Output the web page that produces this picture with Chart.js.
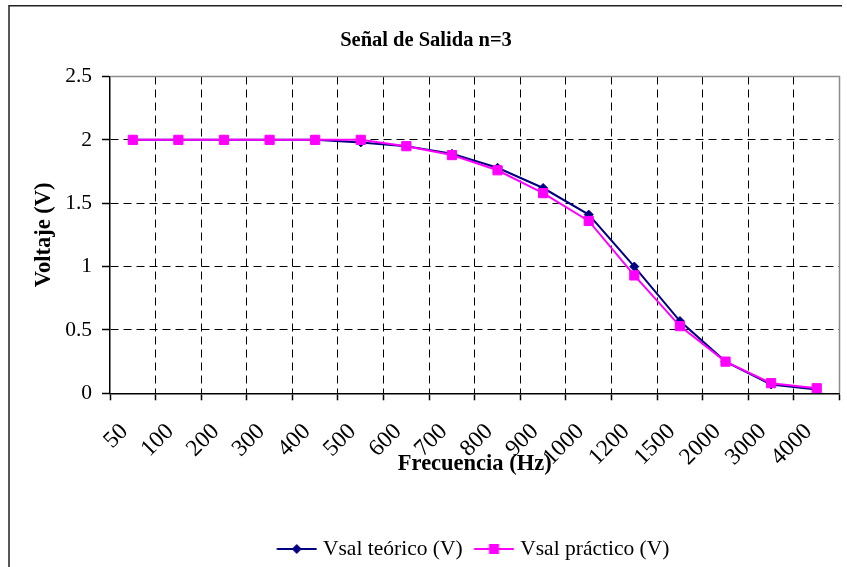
<!DOCTYPE html>
<html>
<head>
<meta charset="utf-8">
<title>Señal de Salida n=3</title>
<script src="https://cdn.jsdelivr.net/npm/chart.js@4.4.1/dist/chart.umd.min.js"></script>
<style>
  html, body { margin: 0; padding: 0; background: #ffffff; }
  canvas { display: block; }
</style>
</head>
<body>
<canvas id="grafico" width="847" height="567"></canvas>
<script>
// Frecuencias de medición (Hz), una categoría por punto
const frecuencias = ['50', '100', '200', '300', '400', '500', '600', '700', '800',
                     '900', '1000', '1200', '1500', '2000', '3000', '4000'];

// Tensión de salida teórica (V)
const vsalTeorico = [2.00, 2.00, 2.00, 2.00, 2.00, 1.98, 1.95, 1.89, 1.78,
                     1.62, 1.41, 1.00, 0.57, 0.25, 0.07, 0.03];

// Tensión de salida medida (V)
const vsalPractico = [2.00, 2.00, 2.00, 2.00, 2.00, 2.00, 1.95, 1.88, 1.76,
                      1.58, 1.36, 0.93, 0.53, 0.25, 0.08, 0.04];

const nombresSeries = ['Vsal teórico (V)', 'Vsal práctico (V)'];
const coloresSeries = ['#000080', '#ff00ff'];

const FUENTE = '"Liberation Serif", "Times New Roman", Times, serif';
const TAM = 21.5;

Chart.defaults.font.family = FUENTE;
Chart.defaults.font.size = TAM;
Chart.defaults.color = '#000000';

// Muestra de leyenda: tramo de línea con el marcador en el centro
function muestraLeyenda(color, forma) {
  const c = document.createElement('canvas');
  c.width = 50; c.height = 22;
  const g = c.getContext('2d');
  g.strokeStyle = color;
  g.fillStyle = color;
  g.lineWidth = 2;
  g.beginPath();
  g.moveTo(9.5, 11);
  g.lineTo(49.5, 11);
  g.stroke();
  const cx = 29.5, cy = 11;
  g.beginPath();
  if (forma === 'rombo') {
    g.moveTo(cx, cy - 5); g.lineTo(cx + 5, cy); g.lineTo(cx, cy + 5); g.lineTo(cx - 5, cy);
  } else {
    g.rect(cx - 5, cy - 5, 10, 10);
  }
  g.closePath();
  g.fill();
  return c;
}
const muestras = [muestraLeyenda(coloresSeries[0], 'rombo'), muestraLeyenda(coloresSeries[1], 'cuadrado')];

// Marco exterior del gráfico y borde gris del área de trazado
const marcos = {
  id: 'marcos',
  beforeDraw(chart) {
    const { ctx } = chart;
    ctx.save();
    ctx.fillStyle = '#ffffff';
    ctx.fillRect(0, 0, chart.width, chart.height);
    ctx.strokeStyle = '#222222';
    ctx.lineWidth = 1.5;
    ctx.beginPath();
    ctx.moveTo(9, chart.height);
    ctx.lineTo(9, 5.7);
    ctx.lineTo(842, 5.7);
    ctx.stroke();
    ctx.restore();
  },
  beforeDatasetsDraw(chart) {
    const { ctx, chartArea: a } = chart;
    ctx.save();
    ctx.strokeStyle = '#8c8c8c';
    ctx.lineWidth = 1.5;
    ctx.beginPath();
    ctx.moveTo(a.left, a.top);
    ctx.lineTo(a.right, a.top);
    ctx.lineTo(a.right, a.bottom);
    ctx.stroke();
    ctx.restore();
  },
  // la leyenda se centra bajo el área de trazado
  afterLayout(chart) {
    const l = chart.legend;
    if (!l) return;
    const dx = 44.85, dy = 2.75;
    l.left += dx; l.right += dx;
    l.top += dy; l.bottom += dy;
  }
};

const transparente = 'rgba(0,0,0,0)';

new Chart(document.getElementById('grafico'), {
  type: 'line',
  data: {
    labels: frecuencias,
    datasets: [
      {
        label: nombresSeries[0],
        data: vsalTeorico,
        borderColor: coloresSeries[0],
        backgroundColor: coloresSeries[0],
        borderWidth: 2,
        pointStyle: 'rectRot',
        pointRadius: 4.5,
        pointBorderWidth: 1,
        tension: 0,
        order: 2
      },
      {
        label: nombresSeries[1],
        data: vsalPractico,
        borderColor: coloresSeries[1],
        backgroundColor: coloresSeries[1],
        borderWidth: 2,
        pointStyle: 'rect',
        pointRadius: 6.5,
        pointBorderWidth: 1,
        tension: 0,
        order: 1
      }
    ]
  },
  options: {
    responsive: false,
    animation: false,
    devicePixelRatio: 1,
    layout: { padding: { top: 8, left: 8, right: 3, bottom: 0 } },
    plugins: {
      title: {
        display: true,
        text: 'Señal de Salida n=3',
        color: '#000000',
        font: { size: 20.5, weight: 'bold' },
        padding: { top: 20.7, bottom: 23.2 }
      },
      legend: {
        position: 'bottom',
        labels: {
          usePointStyle: true,
          pointStyleWidth: 40,
          padding: 6.8,
          color: '#000000',
          font: { size: TAM },
          generateLabels: chart => chart.data.datasets.map((ds, i) => ({
            text: ds.label,
            fillStyle: ds.borderColor,
            strokeStyle: ds.borderColor,
            lineWidth: 0,
            hidden: false,
            datasetIndex: i,
            pointStyle: muestras[i],
            fontColor: '#000000'
          }))
        }
      },
      tooltip: { enabled: false }
    },
    scales: {
      x: {
        type: 'category',
        offset: true,
        grid: {
          offset: true,
          color: c => (c.type !== 'tick' || c.index === 0) ? transparente : '#000000',
          lineWidth: 1,
          drawTicks: true,
          tickLength: 7,
          tickColor: '#000000',
          tickWidth: 1.5
        },
        border: { display: true, color: '#000000', width: 1.5, dash: [8, 5] },
        ticks: {
          autoSkip: false,
          minRotation: 45,
          maxRotation: 45,
          padding: 9.5,
          color: '#000000',
          font: { size: 23.5 },
          // los espacios finales separan el texto girado de la marca
          callback: (v, i) => frecuencias[i] + '  '
        },
        title: {
          display: true,
          text: 'Frecuencia (Hz)',
          color: '#000000',
          font: { size: 22.5, weight: 'bold' },
          padding: { top: 0, bottom: 51.2 }
        },
        afterFit: s => { s.height = 135.4; }
      },
      y: {
        min: 0,
        max: 2.5,
        ticks: {
          stepSize: 0.5,
          padding: 10,
          color: '#000000',
          font: { size: TAM },
          callback: v => String(v)
        },
        grid: {
          color: c => (c.tick && (c.tick.value === 0 || c.tick.value === 2.5)) ? transparente : '#000000',
          lineWidth: 1,
          tickLength: 8,
          tickColor: '#000000',
          tickWidth: 1.5
        },
        border: { display: true, color: '#000000', width: 1.5, dash: [8, 5] },
        title: {
          display: true,
          text: 'Voltaje (V)',
          color: '#000000',
          font: { size: 22.5, weight: 'bold' },
          padding: { top: 22.5, bottom: 0 }
        },
        afterFit: s => { s.width = 102; }
      }
    }
  },
  plugins: [marcos]
});
</script>
</body>
</html>
